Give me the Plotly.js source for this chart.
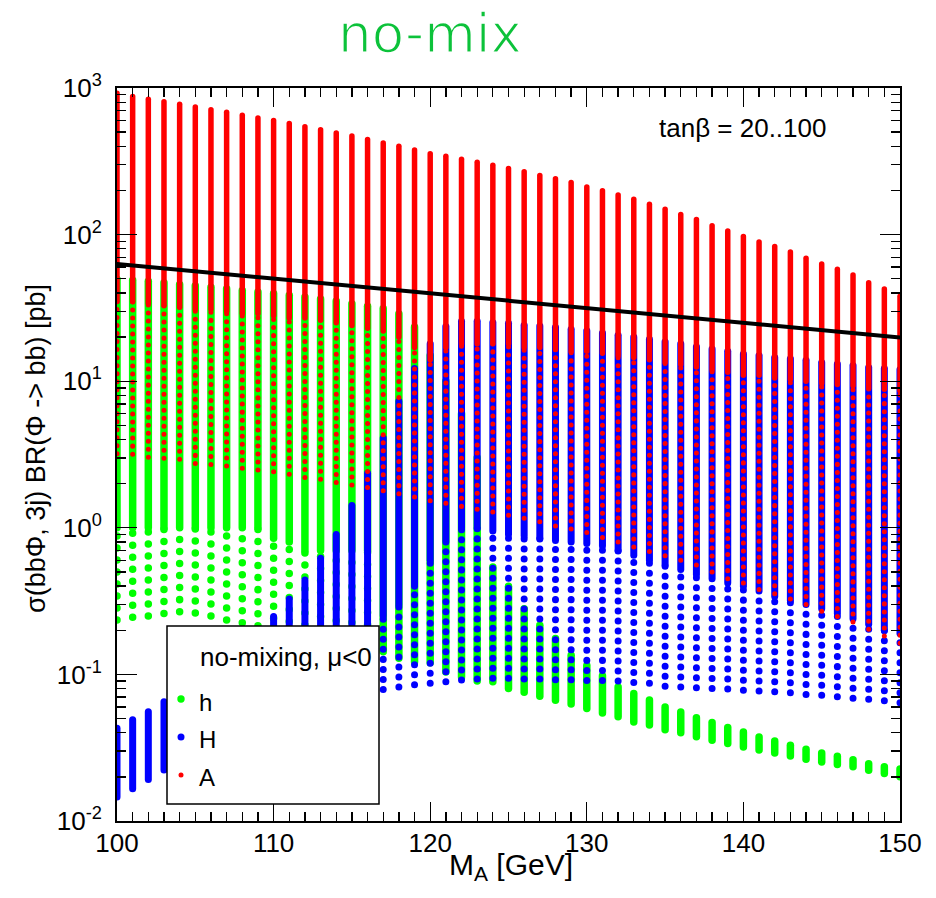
<!DOCTYPE html>
<html><head><meta charset="utf-8">
<script src="https://cdn.plot.ly/plotly-3.0.1.min.js"></script>
<style>
html,body{margin:0;padding:0;background:#fff;}
#chart{width:936px;height:898px;}
.js-line{stroke-linecap:round !important;}
.cartesianlayer .plot, .cartesianlayer .plot *{clip-path:none !important;}
.gtitle{stroke:#ffffff !important;stroke-width:1.5px;}
</style></head><body><div id="chart"></div>
<script>
// M_A grid [GeV]
const massA = [100,101,102,103,104,105,106,107,108,109,110,111,112,113,114,115,116,117,118,119,120,121,122,123,124,125,126,127,128,129,130,131,132,133,134,135,136,137,138,139,140,141,142,143,144,145,146,147,148,149,150];

// A (red): highest point, lowest point of the dense run, lowest point [pb]
const aTop = [920,875,838,805,775,743,712,683,652,625, 600,572,545,520,494,471,445,422,400,378, 356,342,326,311,297,282,268,253,240,227, 211,199,186,174,161,149,137,127,115,106, 97,89,83,76,69,63,58,53,47,42.5, 38];
const aDense = [35,35,34,33,32,31,31,30,29,29, 28,27,27,26,25,24,23,22,20,17, 14,17,18,18,18,18,17,17,16.5,16, 16,15.5,15,14.5,14,13.5,13,12.5,12,11.5, 11,11,10.5,10.3,10,9.7,9.5,9.3,9,8.8, 8.6];
const aBottom = [3.2,3.18,3.03,2.98,2.93,2.75,2.7,2.64,2.55,2.48, 2.41,2.32,2.2,2.14,2.04,1.96,1.88,1.79,1.71,1.62, 1.53,1.47,1.40,1.34,1.28,1.22,1.16,1.10,1.03,0.98, 0.93,0.86,0.80,0.74,0.69,0.645,0.60,0.557,0.50,0.45, 0.42,0.38,0.355,0.327,0.30,0.27,0.248,0.228,0.203,0.183, 0.163];

// h (green)
const hTop = [49.6,48.8,48,46.9,45.6,44.7,43.8,42.8,41.5,40.6, 39.6,38.6,37.6,36.4,35.2,33.8,32.5,31.3,28.9,23.4, 15,10,6,3,0.54,0.40,0.28,0.216,0.176,0.135, 0.115,0.098,0.082,0.074,0.067,0.060,0.0555,0.0507,0.047,0.0434, 0.0405,0.0374,0.0352,0.0329,0.0309,0.0291,0.0276,0.0262,0.0246,0.0234, 0.0226];
const hDense = [1,1,1,1,1,1,1,1,1,1, 0.85,0.8,0.7,0.7,0.7,0.7,0.7,0.143,0.129,0.122, 0.12,0.104,0.096,0.09,0.089,0.080,0.0756,0.071,0.0667,0.0627, 0.0585,0.0546,0.0515,0.0473,0.0452,0.042,0.040,0.0375,0.0356,0.0338, 0.032,0.0305,0.0291,0.0278,0.0264,0.0253,0.0243,0.0234,0.0222,0.0211, 0.020];
const hBottom = [0.235,0.245,0.25,0.26,0.268,0.262,0.25,0.235,0.225,0.215, 0.2,0.19,0.18,0.17,0.16,0.155,0.15,0.143,0.129,0.122, 0.12,0.104,0.096,0.09,0.089,0.080,0.0756,0.071,0.0667,0.0627, 0.0585,0.0546,0.0515,0.0473,0.0452,0.042,0.040,0.0375,0.0356,0.0338, 0.032,0.0305,0.0291,0.0278,0.0264,0.0253,0.0243,0.0234,0.0222,0.0211, 0.020];

// H (blue)
const bigHTop = [0.043,0.049,0.0557,0.065,0.078,0.092,0.11,0.13,0.155,0.185, 0.248,0.327,0.44,0.62,0.9,1.42,2.36,4.1,7.3,12.2, 18,23.6,25.6,25.6,25.1,24.8,24.1,23.8,23.3,22.6, 22.1,21.3,20.6,20,19.3,18.6,18,17.2,16.6,16, 15.3,15,14.5,14.2,13.9,13.4,13.1,12.8,12.4,12.2, 12];
const bigHDense = [0.0146,0.0166,0.0192,0.0223,0.026,0.030,0.035,0.041,0.047,0.053, 0.058,0.062,0.066,0.07,0.073,0.075,0.077,0.25,0.3,0.4, 0.6,0.8,1.0,1.0,0.95,0.9,0.88,0.85,0.82,0.8, 0.78,0.75,0.7,0.65,0.6,0.56,0.52,0.48,0.45,0.42, 0.4,0.37,0.34,0.32,0.3,0.28,0.26,0.24,0.22,0.2, 0.19];
const bigHBottom = [0.0146,0.0166,0.0192,0.0223,0.026,0.030,0.035,0.041,0.047,0.053, 0.058,0.062,0.066,0.07,0.073,0.075,0.077,0.079,0.082,0.085, 0.087,0.089,0.0916,0.093,0.094,0.094,0.093,0.093,0.092,0.092, 0.091,0.091,0.090,0.088,0.087,0.083,0.082,0.081,0.080,0.0795, 0.078,0.077,0.076,0.075,0.073,0.072,0.0705,0.0687,0.0676,0.066, 0.064];

// black reference line
const refMass = [100,150];
const refXsec = [63,19.9];

// axis ticks
const xTickVals = [100,110,120,130,140,150];
const yTickVals = [0.01,0.1,1,10,100,1000];
const yTickText = ['10<sup>-2</sup>','10<sup>-1</sup>','10<sup>0</sup>','10<sup>1</sup>','10<sup>2</sup>','10<sup>3</sup>'];

const legendTitle = 'no-mixing, \u03bc<0';
const legendNames = ['h','H','A'];

const GREEN = '#00ff00', BLUE = '#0000ff', RED = '#ff0000';
const FONT = 'Liberation Sans, Arial, sans-serif';

function segments(lo, hi) {
  const x = [], y = [];
  massA.forEach((m, i) => {
    if (hi[i] > lo[i]) { x.push(m, m, null); y.push(lo[i], hi[i], null); }
  });
  return {x, y};
}
function solidTrace(lo, hi, color, w) {
  const s = segments(lo, hi);
  return {x: s.x, y: s.y, type: 'scatter', mode: 'lines', hoverinfo: 'skip',
          line: {color: color, width: w}, showlegend: false};
}
function dotTrace(lo, hi, color, w, pitch) {
  const s = segments(lo, hi);
  return {x: s.x, y: s.y, type: 'scatter', mode: 'lines', hoverinfo: 'skip',
          line: {color: color, width: w, dash: '0.01px,' + pitch + 'px'}, showlegend: false};
}

const traces = [
  solidTrace(hDense, hTop, GREEN, 7.5),
  dotTrace(hBottom, hDense, GREEN, 7.5, 12),
  solidTrace(bigHDense, bigHTop, BLUE, 7),
  dotTrace(bigHBottom, bigHDense, BLUE, 7, 10),
  solidTrace(aDense, aTop, RED, 5.5),
  dotTrace(aBottom, aDense, RED, 5, 8),
  {x: refMass, y: refXsec, type: 'scatter', mode: 'lines', line: {color: '#000', width: 4}, hoverinfo: 'skip', showlegend: false}
];

const minorY = [];
for (let d = -2; d < 3; d++) for (let k = 2; k <= 9; k++) minorY.push(k * Math.pow(10, d));

// pixel helpers for paper coords of layout decorations
const L = 117, R = 900, T = 88, B = 821;
const px = v => (v - L) / (R - L);
const py = v => (B - v) / (B - T);

const layout = {
  width: 936, height: 898,
  margin: {l: L, r: 936 - R, t: T, b: 898 - B, pad: 0},
  paper_bgcolor: '#fff', plot_bgcolor: '#fff',
  showlegend: false,
  title: {text: 'no-mix', font: {family: 'DejaVu Sans, sans-serif', size: 53, color: '#0cc23a'},
          xref: 'container', yref: 'container', x: 430 / 936, xanchor: 'center', y: 1 - 33 / 898, yanchor: 'middle'},
  xaxis: {
    range: [100, 150], tickmode: 'array', tickvals: xTickVals,
    ticks: 'inside', ticklen: 19, tickwidth: 1.3, tickcolor: '#000',
    showline: true, linecolor: '#000', linewidth: 2, mirror: 'ticks',
    showgrid: false, zeroline: false, ticklabelstandoff: -2,
    tickfont: {family: FONT, size: 26, color: '#000'},
    minor: {dtick: 1, tick0: 100, ticks: 'inside', ticklen: 9, tickwidth: 1.3, tickcolor: '#000', showgrid: false}
  },
  yaxis: {
    type: 'log', range: [-2, 3], tickmode: 'array', tickvals: yTickVals, ticktext: yTickText,
    ticks: 'inside', ticklen: 20, tickwidth: 1.3, tickcolor: '#000',
    showline: true, linecolor: '#000', linewidth: 2, mirror: 'ticks',
    showgrid: false, zeroline: false, ticklabelstandoff: 8,
    tickfont: {family: FONT, size: 26, color: '#000'},
    minor: {tickmode: 'array', tickvals: minorY, ticks: 'inside', ticklen: 9, tickwidth: 1.3, tickcolor: '#000', showgrid: false}
  },
  shapes: [
    {type: 'rect', xref: 'paper', yref: 'paper', x0: px(167), x1: px(379), y0: py(804), y1: py(626),
     fillcolor: '#fff', line: {color: '#000', width: 1.5}, layer: 'above'},
    {type: 'circle', xref: 'paper', yref: 'paper', xsizemode: 'pixel', ysizemode: 'pixel',
     xanchor: px(181), yanchor: py(699), x0: -3.7, x1: 3.7, y0: -3.7, y1: 3.7, fillcolor: GREEN, line: {width: 0}, layer: 'above'},
    {type: 'circle', xref: 'paper', yref: 'paper', xsizemode: 'pixel', ysizemode: 'pixel',
     xanchor: px(181), yanchor: py(737), x0: -3.5, x1: 3.5, y0: -3.5, y1: 3.5, fillcolor: BLUE, line: {width: 0}, layer: 'above'},
    {type: 'circle', xref: 'paper', yref: 'paper', xsizemode: 'pixel', ysizemode: 'pixel',
     xanchor: px(181), yanchor: py(775), x0: -2.5, x1: 2.5, y0: -2.5, y1: 2.5, fillcolor: RED, line: {width: 0}, layer: 'above'}
  ],
  annotations: [
    {text: legendTitle, xref: 'paper', yref: 'paper', x: px(198), y: py(657), xanchor: 'left', yanchor: 'middle', showarrow: false, font: {family: FONT, size: 26, color: '#000'}},
    {text: legendNames[0], xref: 'paper', yref: 'paper', x: px(197), y: py(702), xanchor: 'left', yanchor: 'middle', showarrow: false, font: {family: FONT, size: 24, color: '#000'}},
    {text: legendNames[1], xref: 'paper', yref: 'paper', x: px(197), y: py(739), xanchor: 'left', yanchor: 'middle', showarrow: false, font: {family: FONT, size: 24, color: '#000'}},
    {text: legendNames[2], xref: 'paper', yref: 'paper', x: px(197), y: py(777), xanchor: 'left', yanchor: 'middle', showarrow: false, font: {family: FONT, size: 24, color: '#000'}},
    {text: 'tan\u03b2 = 20..100', xref: 'paper', yref: 'paper', x: px(742), y: py(128), xanchor: 'center', yanchor: 'middle', showarrow: false, font: {family: FONT, size: 26, color: '#000'}},
    {text: 'M<sub>A</sub> [GeV]', xref: 'paper', yref: 'paper', x: px(511), y: py(867), xanchor: 'center', yanchor: 'middle', showarrow: false, font: {family: FONT, size: 30, color: '#000'}},
    {text: '\u03c3(bb\u03a6, 3j) BR(\u03a6 -> bb) [pb]', xref: 'paper', yref: 'paper', x: px(36), y: py(449), xanchor: 'center', yanchor: 'middle', textangle: -90, showarrow: false, font: {family: FONT, size: 27, color: '#000'}}
  ]
};

Plotly.newPlot('chart', traces, layout, {staticPlot: true, displayModeBar: false});
</script></body></html>
